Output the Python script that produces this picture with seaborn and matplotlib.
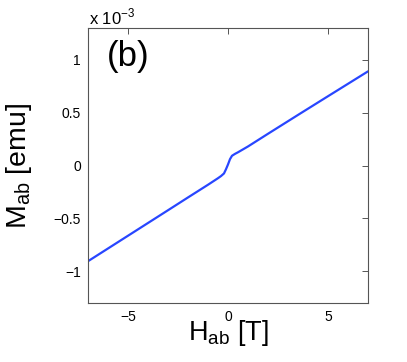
import matplotlib
matplotlib.use("Agg")
import matplotlib.pyplot as plt
import matplotlib.ticker as mticker
import pandas as pd
import seaborn as sns

# Data (M in units of 1e-3 emu)
h_ab = [-7.0, -5.0, -3.0, -2.0, -1.0, -0.5, -0.35, -0.2, -0.1, 0.0,
        0.1, 0.2, 0.35, 0.5, 1.0, 2.0, 3.6, 5.0, 7.0]
m_ab = [-0.905, -0.664, -0.423, -0.302, -0.182, -0.12, -0.1, -0.075,
        -0.035, 0.01, 0.06, 0.092, 0.11, 0.125, 0.18, 0.30, 0.49, 0.655,
        0.89]
x_ticks = [-5, 0, 5]
y_ticks = [-1, -0.5, 0, 0.5, 1]

df = pd.DataFrame({"H": h_ab, "M": m_ab})

sns.set_style("white")
plt.rcParams["font.family"] = ["Liberation Sans", "DejaVu Sans"]
plt.rcParams["text.color"] = "black"
plt.rcParams["axes.labelcolor"] = "black"
plt.rcParams["xtick.color"] = "black"
plt.rcParams["ytick.color"] = "black"

fig = plt.figure(figsize=(4.07, 3.62), dpi=100)
ax = fig.add_axes([88 / 407, 59 / 362, 280 / 407, 275 / 362])

sns.lineplot(data=df, x="H", y="M", ax=ax, color="#2846ff", linewidth=1.6,
             sort=False)

ax.set_xlim(-7, 7)
ax.set_ylim(-1.3, 1.3)
ax.set_xticks(x_ticks)
ax.set_yticks(y_ticks)
fmt = mticker.FuncFormatter(lambda v, p: f"{v:g}".replace("-", "\u2212"))
ax.xaxis.set_major_formatter(fmt)
ax.yaxis.set_major_formatter(fmt)
ax.tick_params(direction="in", length=4, width=0.7, color="#555555",
               labelcolor="black", labelsize=10, top=True, right=True, pad=5)
for s in ax.spines.values():
    s.set_color("#555555")
    s.set_linewidth(0.8)

ax.set_xlabel(r"H$_{\mathregular{ab}}$ [T]", fontsize=19.5, labelpad=-4)
ax.set_ylabel(r"M$_{\mathregular{ab}}$ [emu]", fontsize=20.5, labelpad=14)
ax.text(0.068, 0.955, "(b)", transform=ax.transAxes, fontsize=25,
        ha="left", va="top")
fig.text(89 / 407, 1 - 24 / 362, r"x 10$^{\mathregular{-3}}$", fontsize=12,
         ha="left", va="baseline")

fig.savefig("out.png", dpi=100)
